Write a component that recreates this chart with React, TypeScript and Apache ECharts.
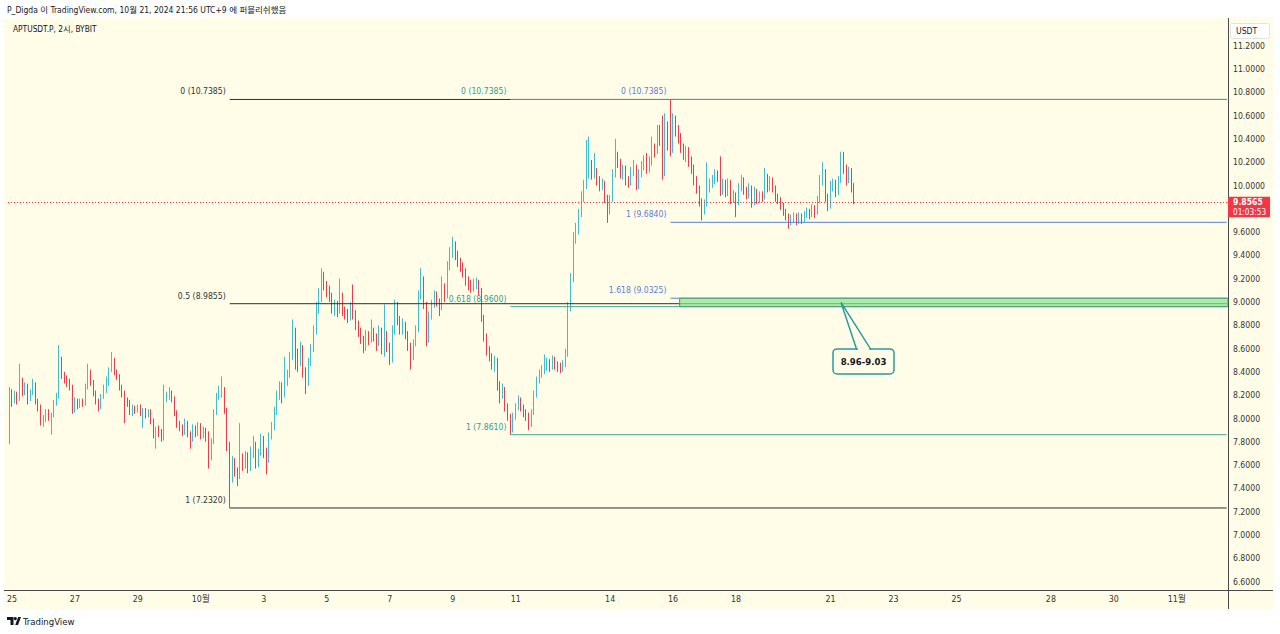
import React, { useEffect, useRef } from "react";
import * as echarts from "echarts";

// ---------- data (2h candles of APTUSDT.P, BYBIT) ----------
const firstOpen = 7.82;
const closes = [
  8.19, 8.17, 8.2, 8.17, 8.33, 8.22, 8.28, 8.19, 8.22, 8.29,
  8.15, 8.1, 7.97, 7.99, 8.06, 8.02, 8.03, 8.14, 8.19, 8.5,
  8.37, 8.34, 8.31, 8.27, 8.07, 8.15, 8.11, 8.14, 8.13, 8.27,
  8.39, 8.31, 8.22, 8.15, 8.1, 8.19, 8.27, 8.3, 8.42, 8.5,
  8.4, 8.36, 8.27, 8.22, 8.15, 8.14, 8.05, 8.09, 8.07, 8.1,
  8.05, 8.07, 8.03, 8.06, 7.98, 7.86, 7.9, 7.87, 7.83, 8.19,
  8.2, 8.22, 8.17, 8.05, 7.95, 7.93, 7.88, 7.96, 7.87, 7.82,
  7.92, 7.87, 7.94, 7.85, 7.9, 7.87, 7.66, 7.8, 8.05, 8.19,
  8.24, 8.25, 8.07, 7.78, 7.55, 7.62, 7.55, 7.5, 7.64, 7.6,
  7.68, 7.58, 7.7, 7.78, 7.62, 7.7, 7.82, 7.72, 7.65, 7.85,
  7.92, 8.06, 8.2, 8.28, 8.2, 8.32, 8.38, 8.52, 8.74, 8.55,
  8.48, 8.6, 8.4, 8.3, 8.48, 8.6, 8.75, 8.95, 9.05, 9.22,
  9.15, 9.1, 9.05, 8.95, 8.98, 8.92, 9.05, 8.92, 8.9, 8.87,
  8.95, 8.9, 8.8, 8.75, 8.68, 8.6, 8.72, 8.68, 8.74, 8.7,
  8.64, 8.75, 8.6, 8.72, 8.62, 8.5, 8.75, 8.98, 8.85, 8.76,
  8.8, 8.72, 8.62, 8.52, 8.65, 8.76, 9.05, 9.19, 8.98, 8.67,
  8.88, 8.98, 9.06, 9.0, 8.95, 9.12, 9.05, 9.3, 9.42, 9.48,
  9.4, 9.35, 9.3, 9.26, 9.18, 9.16, 9.12, 9.15, 9.17, 9.1,
  8.86, 8.7, 8.58, 8.53, 8.45, 8.5, 8.28, 8.2, 8.25, 8.1,
  8.02, 7.9, 8.02, 8.1, 8.16, 8.1, 8.05, 8.03, 7.95, 8.05,
  8.2, 8.33, 8.38, 8.42, 8.45, 8.48, 8.44, 8.5, 8.46, 8.44,
  8.42, 8.46, 8.55, 8.95, 9.2, 9.55, 9.62, 9.76, 9.9, 10.0,
  10.11, 10.18, 10.1, 10.12, 10.05, 10.0, 10.02, 9.9, 9.78, 9.88,
  10.1, 10.25, 10.2, 10.1, 10.14, 10.05, 10.02, 10.12, 10.15, 10.0,
  10.1, 10.17, 10.22, 10.15, 10.2, 10.32, 10.3, 10.48, 10.4, 10.1,
  10.5, 10.36, 10.32, 10.55, 10.48, 10.42, 10.33, 10.26, 10.3, 10.22,
  10.16, 10.05, 9.98, 9.86, 9.78, 9.84, 9.98, 10.02, 10.05, 10.1,
  10.08, 9.95, 10.02, 9.94, 10.02, 9.88, 9.92, 9.85, 9.98, 10.05,
  9.96, 9.92, 9.98, 9.85, 9.95, 9.88, 9.92, 9.9, 10.08, 9.98,
  10.05, 9.98, 9.9, 9.88, 9.83, 9.78, 9.74, 9.7, 9.72, 9.74,
  9.7, 9.74, 9.71, 9.75, 9.78, 9.76, 9.8, 9.78, 9.88, 10.05,
  10.12, 9.9, 9.82, 10.0, 10.02, 9.95, 10.05, 10.2, 10.15, 10.05,
  10.12, 9.98, 9.8565,
];
const lows = [
  7.78, 8.1, 8.13, 8.12, 8.15, 8.19, 8.2, 8.12, 8.15, 8.2,
  8.12, 8.06, 7.94, 7.93, 7.97, 7.98, 7.86, 8.01, 8.11, 8.17,
  8.34, 8.3, 8.27, 8.24, 8.04, 8.05, 8.08, 8.09, 8.1, 8.11,
  8.25, 8.28, 8.19, 8.12, 8.06, 8.08, 8.17, 8.22, 8.28, 8.4,
  8.37, 8.33, 8.24, 8.18, 7.96, 8.1, 8.03, 8.02, 8.04, 8.05,
  8.02, 7.92, 8.0, 8.01, 7.95, 7.83, 7.74, 7.84, 7.8, 7.81,
  8.14, 8.16, 8.14, 8.02, 7.92, 7.89, 7.85, 7.86, 7.84, 7.74,
  7.8, 7.84, 7.85, 7.82, 7.83, 7.8, 7.57, 7.64, 7.78, 8.03,
  8.16, 8.18, 8.04, 7.72, 7.232, 7.45, 7.5, 7.42, 7.48, 7.55,
  7.57, 7.53, 7.55, 7.66, 7.57, 7.58, 7.68, 7.66, 7.52, 7.62,
  7.82, 7.9, 8.03, 8.16, 8.13, 8.18, 8.28, 8.35, 8.5, 8.42,
  8.4, 8.45, 8.35, 8.21, 8.28, 8.45, 8.57, 8.72, 8.9, 9.0,
  9.1, 9.04, 9.0, 8.9, 8.88, 8.87, 8.9, 8.88, 8.85, 8.82,
  8.84, 8.85, 8.76, 8.7, 8.64, 8.56, 8.58, 8.63, 8.65, 8.66,
  8.58, 8.62, 8.55, 8.53, 8.57, 8.46, 8.48, 8.72, 8.8, 8.72,
  8.72, 8.68, 8.58, 8.42, 8.5, 8.62, 8.74, 9.02, 8.94, 8.62,
  8.65, 8.85, 8.95, 8.96, 8.88, 8.93, 9.0, 9.03, 9.27, 9.38,
  9.36, 9.3, 9.26, 9.21, 9.14, 9.1, 9.08, 9.09, 9.11, 9.06,
  8.83, 8.66, 8.54, 8.49, 8.42, 8.4, 8.24, 8.13, 8.17, 8.06,
  7.98, 7.861, 7.88, 7.99, 8.07, 8.06, 8.01, 7.98, 7.9, 7.93,
  8.03, 8.18, 8.3, 8.35, 8.38, 8.41, 8.4, 8.42, 8.42, 8.4,
  8.39, 8.4, 8.44, 8.53, 8.92, 9.17, 9.5, 9.58, 9.73, 9.86,
  9.97, 10.06, 10.05, 10.06, 10.0, 9.95, 9.96, 9.85, 9.68, 9.75,
  9.86, 10.07, 10.15, 10.06, 10.05, 10.0, 9.98, 10.0, 10.08, 9.96,
  9.97, 10.07, 10.13, 10.1, 10.11, 10.17, 10.24, 10.27, 10.34, 10.05,
  10.08, 10.3, 10.25, 10.28, 10.42, 10.36, 10.28, 10.22, 10.2, 10.16,
  10.1, 10.0, 9.93, 9.82, 9.7, 9.75, 9.82, 9.94, 9.98, 10.01,
  10.03, 9.91, 9.92, 9.9, 9.91, 9.84, 9.85, 9.73, 9.83, 9.95,
  9.92, 9.88, 9.89, 9.81, 9.83, 9.84, 9.85, 9.86, 9.88, 9.94,
  9.95, 9.94, 9.86, 9.84, 9.79, 9.74, 9.7, 9.63, 9.66, 9.68,
  9.66, 9.67, 9.67, 9.68, 9.72, 9.71, 9.73, 9.72, 9.75, 9.85,
  10.0, 9.86, 9.78, 9.8, 9.95, 9.9, 9.92, 10.02, 10.1, 10.0,
  10.02, 9.94, 9.84,
];
const highs = [
  8.27, 8.25, 8.24, 8.23, 8.47, 8.35, 8.31, 8.3, 8.25, 8.34,
  8.31, 8.17, 8.12, 8.03, 8.08, 8.08, 8.05, 8.16, 8.22, 8.63,
  8.53, 8.4, 8.37, 8.34, 8.29, 8.18, 8.17, 8.17, 8.17, 8.3,
  8.47, 8.42, 8.33, 8.24, 8.17, 8.21, 8.29, 8.36, 8.44, 8.57,
  8.52, 8.42, 8.38, 8.29, 8.24, 8.18, 8.16, 8.12, 8.11, 8.12,
  8.12, 8.09, 8.09, 8.08, 8.08, 8.0, 7.93, 7.94, 7.91, 8.29,
  8.23, 8.27, 8.24, 8.19, 8.07, 7.98, 7.95, 8.0, 7.98, 7.89,
  7.95, 7.94, 7.97, 7.96, 7.93, 7.92, 7.89, 7.83, 8.08, 8.22,
  8.28, 8.36, 8.27, 8.09, 7.8, 7.68, 7.66, 7.58, 7.96, 7.7,
  7.72, 7.71, 7.76, 7.85, 7.8, 7.74, 7.87, 7.85, 7.75, 7.88,
  7.97, 8.1, 8.24, 8.32, 8.31, 8.53, 8.42, 8.57, 8.85, 8.78,
  8.6, 8.66, 8.63, 8.44, 8.52, 8.64, 8.8, 9.0, 9.12, 9.29,
  9.26, 9.18, 9.14, 9.08, 9.02, 9.01, 9.2, 9.08, 8.96, 8.94,
  9.0, 9.15, 8.93, 8.84, 8.78, 8.71, 8.76, 8.75, 8.85, 8.78,
  8.73, 8.8, 8.78, 8.98, 8.75, 8.65, 8.8, 9.02, 9.0, 8.88,
  8.86, 8.83, 8.75, 8.65, 8.68, 8.8, 9.1, 9.29, 9.22, 9.0,
  8.92, 9.02, 9.1, 9.09, 9.03, 9.22, 9.16, 9.35, 9.47, 9.56,
  9.52, 9.44, 9.38, 9.34, 9.29, 9.22, 9.19, 9.2, 9.21, 9.19,
  9.12, 8.89, 8.73, 8.62, 8.56, 8.54, 8.52, 8.32, 8.3, 8.27,
  8.13, 8.04, 8.05, 8.13, 8.2, 8.18, 8.12, 8.08, 8.05, 8.08,
  8.24, 8.36, 8.42, 8.46, 8.55, 8.52, 8.51, 8.54, 8.53, 8.49,
  8.48, 8.5, 8.6, 9.0, 9.25, 9.6, 9.68, 9.8, 9.95, 10.05,
  10.39, 10.42, 10.22, 10.28, 10.15, 10.08, 10.06, 10.04, 9.92, 9.92,
  10.14, 10.4, 10.29, 10.23, 10.18, 10.17, 10.08, 10.16, 10.22, 10.18,
  10.14, 10.21, 10.26, 10.28, 10.25, 10.42, 10.36, 10.52, 10.52, 10.6,
  10.62, 10.55, 10.7385, 10.62, 10.6, 10.52, 10.45, 10.36, 10.34, 10.33,
  10.25, 10.18, 10.08, 10.0, 9.89, 9.88, 10.2, 10.06, 10.09, 10.14,
  10.13, 10.25, 10.06, 10.05, 10.06, 10.05, 9.96, 9.94, 10.02, 10.09,
  10.07, 9.99, 10.02, 10.0, 9.99, 9.97, 9.95, 9.95, 10.15, 10.1,
  10.08, 10.07, 10.0, 9.93, 9.9, 9.85, 9.8, 9.76, 9.75, 9.77,
  9.76, 9.77, 9.76, 9.78, 9.81, 9.8, 9.84, 9.83, 9.91, 10.09,
  10.2, 10.14, 9.93, 10.04, 10.06, 10.05, 10.08, 10.29, 10.29, 10.18,
  10.16, 10.15, 10.02,
];

// ---------- axes ----------
const startTimeUTC = Date.UTC(2024, 8, 24, 22); // first 2h slot
const slotCount = 465;
const tickDays = ["09-25", "09-27", "09-29", "10-01", "10-03", "10-05", "10-07", "10-09", "10-11",
  "10-14", "10-16", "10-18", "10-21", "10-23", "10-25", "10-28", "10-30", "11-01"];
const tickLabels = ["25", "27", "29", "10월", "3", "5", "7", "9", "11",
  "14", "16", "18", "21", "23", "25", "28", "30", "11월"];
// 9.8000 is hidden behind the last-price tag in the reference
const yLabelValues = [6.6, 6.8, 7.0, 7.2, 7.4, 7.6, 7.8, 8.0, 8.2, 8.4, 8.6, 8.8, 9.0,
  9.2, 9.4, 9.6, 10.0, 10.2, 10.4, 10.6, 10.8, 11.0, 11.2];
const yMin = 6.5279;
const yMax = 11.4378;

// ---------- drawings ----------
const blackFibLevels = ["0", "0.5", "1"];
const blackFibPrices = [10.7385, 8.9855, 7.232];
const blackFibStart = 84;
const greenFibLevels = ["0", "0.618", "1"];
const greenFibPrices = [10.7385, 8.96, 7.861];
const greenFibStart = 191;
const blueFibLevels = ["0", "1", "1.618"];
const blueFibPrices = [10.7385, 9.684, 9.0325];
const blueFibStart = 252;
const zoneLow = 8.96;
const zoneHigh = 9.0325;
const zoneStart = 256;
const calloutText = "8.96-9.03";
const calloutAnchor = 317;
const lastPrice = 9.8565;
const countdown = "01:03:53";

const headerText = "P_Digda 이 TradingView.com, 10월 21, 2024 21:56 UTC+9 에 퍼블리쉬했음";
const symbolText = "APTUSDT.P, 2시, BYBIT";

const FONT = "'Liberation Sans Narrow', 'DejaVu Sans Condensed', 'Noto Sans CJK KR', sans-serif";
const BG = "#fffde8";
const UP = "#42bdcd";
const DOWN = "#e5404f";
const BLACK = "#2f2f2f";
const GREEN = "#3fa88f";
const BLUE = "#5b7fd3";

const cats = Array.from({ length: slotCount }, (_, i) => {
  const d = new Date(startTimeUTC + i * 2 * 3600 * 1000);
  const mm = String(d.getUTCMonth() + 1).padStart(2, "0");
  const dd = String(d.getUTCDate()).padStart(2, "0");
  const hh = String(d.getUTCHours()).padStart(2, "0");
  return `${mm}-${dd} ${hh}`;
});

const candleData = closes.map((c, i) => [i === 0 ? firstOpen : closes[i - 1], c, lows[i], highs[i]]);

function fibSeries(start: number, prices: number[], color: string) {
  return prices.map((p) => ({
    type: "line",
    data: [[start, p], [slotCount - 1, p]],
    symbol: "none",
    silent: true,
    z: 3,
    lineStyle: { color, width: 1 },
  }));
}

export default function App() {
  const ref = useRef<HTMLDivElement>(null);
  useEffect(() => {
    const chart = echarts.init(ref.current!, null, { renderer: "svg" });
    const option: any = {
      animation: false,
      backgroundColor: BG,
      grid: { left: 8, right: 52, top: 18, bottom: 44 },
      xAxis: {
        type: "category",
        data: cats,
        boundaryGap: true,
        axisLine: { show: false },
        axisTick: { show: false },
        splitLine: { show: false },
        axisLabel: {
          interval: (_i: number, v: string) => v.endsWith(" 00") && tickDays.includes(v.slice(0, 5)),
          formatter: (v: string) => {
            const k = tickDays.indexOf(v.slice(0, 5));
            return k >= 0 ? tickLabels[k] : "";
          },
          color: "#333",
          fontSize: 8.8,
          fontFamily: FONT,
          margin: 5,
        },
      },
      yAxis: {
        type: "value",
        position: "right",
        min: yMin,
        max: yMax,
        axisLine: { show: false },
        axisTick: { show: false },
        splitLine: { show: false },
        axisLabel: {
          customValues: yLabelValues,
          formatter: (v: number) => v.toFixed(4),
          color: "#333",
          fontSize: 8.6,
          fontFamily: FONT,
          margin: 5,
        },
      },
      series: [
        {
          type: "candlestick",
          data: candleData,
          barWidth: 1.2,
          z: 2,
          itemStyle: { color: UP, color0: DOWN, borderColor: UP, borderColor0: DOWN, borderWidth: 1 },
          markLine: {
            symbol: "none",
            silent: true,
            label: { show: false },
            lineStyle: { color: "#f23645", type: [1, 2], width: 1 },
            data: [{ yAxis: lastPrice }],
          },
        },
        ...fibSeries(blackFibStart, blackFibPrices, BLACK),
        ...fibSeries(blueFibStart, blueFibPrices, BLUE),
        ...fibSeries(greenFibStart, greenFibPrices, GREEN),
      ],
    };
    chart.setOption(option);

    const px = (i: number, p: number) =>
      chart.convertToPixel({ xAxisIndex: 0, yAxisIndex: 0 }, [i, p]) as number[];
    const band = px(1, 9)[0] - px(0, 9)[0];
    const rightX = px(slotCount - 1, 9)[0] + band / 2;

    const g: any[] = [];
    // page frame (white outside the chart pane)
    g.push({ type: "rect", shape: { x: 0, y: 0, width: 1280, height: 18 }, style: { fill: "#fff" }, z: 50, silent: true });
    g.push({ type: "rect", shape: { x: 0, y: 609, width: 1280, height: 25 }, style: { fill: "#fff" }, z: 50, silent: true });
    g.push({ type: "rect", shape: { x: 0, y: 0, width: 4, height: 634 }, style: { fill: "#fff" }, z: 50, silent: true });
    g.push({ type: "rect", shape: { x: 1273, y: 0, width: 7, height: 634 }, style: { fill: "#fff" }, z: 50, silent: true });
    // axis borders
    g.push({ type: "line", shape: { x1: 4, y1: 590.5, x2: 1273, y2: 590.5 }, style: { stroke: "#4a4a4a", lineWidth: 1 }, z: 40, silent: true });
    g.push({ type: "line", shape: { x1: 1228.5, y1: 18, x2: 1228.5, y2: 609 }, style: { stroke: "#4a4a4a", lineWidth: 1 }, z: 40, silent: true });

    // zone box (drawn over the fib lines, semi-transparent like the reference)
    const zt = px(zoneStart, zoneHigh);
    const zb = px(zoneStart, zoneLow);
    g.push({
      type: "rect",
      shape: { x: zt[0] - band / 2, y: zt[1], width: rightX - (zt[0] - band / 2), height: zb[1] - zt[1] },
      style: { fill: "rgba(145,228,130,0.72)", stroke: "#3b9c8a", lineWidth: 1 },
      z: 5,
      silent: true,
    });

    const fibLabels = (start: number, levels: string[], prices: number[], color: string) => {
      prices.forEach((p, k) => {
        const pt = px(start, p);
        g.push({
          type: "text",
          x: pt[0] - 4,
          y: pt[1] - 8,
          style: {
            text: `${levels[k]} (${p.toFixed(4)})`,
            fill: color,
            font: `8.6px ${FONT}`,
            align: "right",
            verticalAlign: "middle",
          },
          z: 30,
          silent: true,
        });
      });
    };
    fibLabels(blackFibStart, blackFibLevels, blackFibPrices, "#333");
    fibLabels(greenFibStart, greenFibLevels, greenFibPrices, "#2f9e8f");
    fibLabels(blueFibStart, blueFibLevels, blueFibPrices, BLUE);

    // callout
    const tip = px(calloutAnchor, (zoneLow + zoneHigh) / 2);
    const tx = tip[0];
    const ty = tip[1];
    const CAL = "#2a9a9c";
    g.push({
      type: "rect",
      shape: { x: tx - 8, y: ty + 46.5, width: 61, height: 25, r: 4 },
      style: { fill: BG, stroke: CAL, lineWidth: 1.5 },
      z: 31,
      silent: true,
    });
    g.push({
      type: "polygon",
      shape: { points: [[tx + 15.5, ty + 46.5], [tx, ty], [tx + 29.5, ty + 46.5]] },
      style: { fill: BG, stroke: CAL, lineWidth: 1.5 },
      z: 32,
      silent: true,
    });
    g.push({
      type: "line",
      shape: { x1: tx + 16.8, y1: ty + 46.5, x2: tx + 28.2, y2: ty + 46.5 },
      style: { stroke: BG, lineWidth: 2.5 },
      z: 33,
      silent: true,
    });
    g.push({
      type: "text",
      x: tx + 22.5,
      y: ty + 59,
      style: { text: calloutText, fill: "#131722", font: `600 9.5px ${FONT}`, align: "center", verticalAlign: "middle" },
      z: 34,
      silent: true,
    });

    // last price tag
    const lp = px(0, lastPrice);
    g.push({ type: "rect", shape: { x: 1228, y: lp[1] - 5.5, width: 42, height: 20.5 }, style: { fill: "#f23645" }, z: 45, silent: true });
    g.push({
      type: "text",
      x: 1233,
      y: lp[1] - 0.2,
      style: { text: lastPrice.toFixed(4), fill: "#fff", font: `bold 8.6px ${FONT}`, verticalAlign: "middle" },
      z: 46,
      silent: true,
    });
    g.push({
      type: "text",
      x: 1233,
      y: lp[1] + 10,
      style: { text: countdown, fill: "#fff", font: `8.2px ${FONT}`, verticalAlign: "middle" },
      z: 46,
      silent: true,
    });

    // USDT box
    g.push({ type: "rect", shape: { x: 1230.5, y: 23.5, width: 39, height: 15, r: 2 }, style: { fill: "#fff", stroke: "#e3e3e3", lineWidth: 1 }, z: 45, silent: true });
    g.push({ type: "text", x: 1236, y: 31, style: { text: "USDT", fill: "#131722", font: `8.6px ${FONT}`, verticalAlign: "middle" }, z: 46, silent: true });

    // header + symbol
    g.push({ type: "text", x: 7, y: 9.5, style: { text: headerText, fill: "#131722", font: `8.5px ${FONT}`, verticalAlign: "middle" }, z: 60, silent: true });
    g.push({ type: "text", x: 13, y: 28.5, style: { text: symbolText, fill: "#131722", font: `8.3px ${FONT}`, verticalAlign: "middle" }, z: 60, silent: true });

    // footer logo
    g.push({ type: "polygon", shape: { points: [[7, 617], [13.5, 617], [13.5, 625], [10.5, 625], [10.5, 620], [7, 620]] }, style: { fill: "#131722" }, z: 60, silent: true });
    g.push({ type: "circle", shape: { cx: 15.3, cy: 618.6, r: 1.6 }, style: { fill: "#131722" }, z: 60, silent: true });
    g.push({ type: "polygon", shape: { points: [[15.2, 625], [18.2, 617], [21, 617], [18, 625]] }, style: { fill: "#131722" }, z: 60, silent: true });
    g.push({ type: "text", x: 23, y: 621.5, style: { text: "TradingView", fill: "#131722", font: `9.5px ${FONT}`, verticalAlign: "middle" }, z: 60, silent: true });

    chart.setOption({ graphic: g });
    return () => chart.dispose();
  }, []);
  return <div ref={ref} style={{ position: "fixed", left: 0, top: 0, width: 1280, height: 634 }} />;
}
